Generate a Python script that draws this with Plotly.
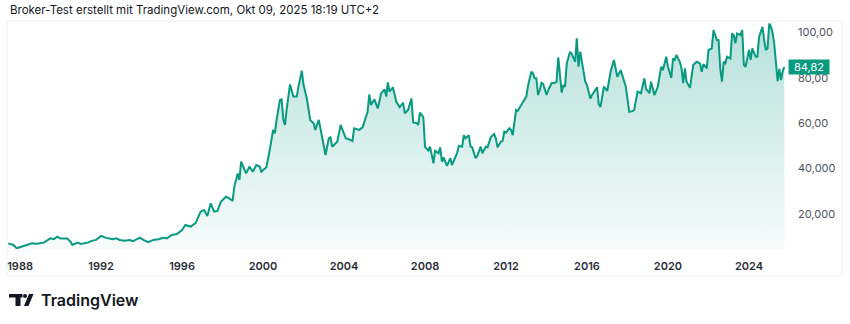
import plotly.graph_objects as go

# Monthly closing values (price in the quote currency)
dates = [
    "1987-06", "1987-09", "1987-11", "1988-01", "1988-04", "1988-08", "1988-11", "1989-03",
    "1989-07", "1989-09", "1989-11", "1990-01", "1990-05", "1990-07", "1990-08", "1990-11",
    "1991-01", "1991-05", "1991-08", "1991-10", "1992-01", "1992-04", "1992-08", "1992-10",
    "1992-12", "1993-03", "1993-06", "1993-08", "1993-12", "1994-02", "1994-05", "1994-08",
    "1994-11", "1995-02", "1995-04", "1995-07", "1995-10", "1996-01", "1996-03", "1996-06",
    "1996-09", "1996-12", "1997-02", "1997-04", "1997-06", "1997-08", "1997-10", "1997-12",
    "1998-03", "1998-05", "1998-07", "1998-08", "1998-10", "1998-11", "1998-12", "1999-03",
    "1999-05", "1999-07", "1999-09", "1999-11", "1999-12", "2000-03", "2000-05", "2000-07",
    "2000-08", "2000-09", "2000-11", "2000-12", "2001-01", "2001-02", "2001-03", "2001-05",
    "2001-07", "2001-09", "2001-10", "2001-12", "2002-01", "2002-03", "2002-05", "2002-07",
    "2002-08", "2002-10", "2002-11", "2003-01", "2003-02", "2003-04", "2003-05", "2003-06",
    "2003-09", "2003-11", "2004-02", "2004-04", "2004-06", "2004-07", "2004-10", "2004-12",
    "2005-03", "2005-04", "2005-05", "2005-07", "2005-09", "2005-11", "2006-01", "2006-02",
    "2006-03", "2006-04", "2006-06", "2006-08", "2006-10", "2006-12", "2007-01", "2007-03",
    "2007-05", "2007-06", "2007-08", "2007-09", "2007-10", "2007-12", "2008-01", "2008-03",
    "2008-04", "2008-06", "2008-07", "2008-09", "2008-10", "2008-11", "2008-12", "2009-02",
    "2009-04", "2009-05", "2009-08", "2009-09", "2009-11", "2009-12", "2010-01", "2010-03",
    "2010-04", "2010-05", "2010-07", "2010-08", "2010-10", "2010-11", "2011-01", "2011-02",
    "2011-04", "2011-06", "2011-07", "2011-08", "2011-10", "2011-11", "2011-12", "2012-01",
    "2012-03", "2012-04", "2012-05", "2012-07", "2012-08", "2012-10", "2012-12", "2013-01",
    "2013-02", "2013-04", "2013-05", "2013-06", "2013-07", "2013-08", "2013-09", "2013-10",
    "2013-11", "2014-01", "2014-02", "2014-04", "2014-06", "2014-07", "2014-08", "2014-10",
    "2014-11", "2014-12", "2015-01", "2015-03", "2015-04", "2015-06", "2015-07", "2015-08",
    "2015-09", "2015-12", "2016-01", "2016-03", "2016-04", "2016-07", "2016-08", "2016-09",
    "2016-11", "2017-01", "2017-03", "2017-05", "2017-07", "2017-09", "2017-12", "2018-01",
    "2018-02", "2018-04", "2018-05", "2018-07", "2018-09", "2018-11", "2018-12", "2019-02",
    "2019-03", "2019-05", "2019-07", "2019-09", "2019-10", "2019-12", "2020-01", "2020-03",
    "2020-04", "2020-05", "2020-06", "2020-08", "2020-09", "2020-10", "2020-11", "2020-12",
    "2021-02", "2021-04", "2021-06", "2021-08", "2021-09", "2021-10", "2021-12", "2022-01",
    "2022-03", "2022-04", "2022-06", "2022-07", "2022-08", "2022-09", "2022-10", "2022-11",
    "2022-12", "2023-02", "2023-03", "2023-04", "2023-05", "2023-06", "2023-08", "2023-09",
    "2023-10", "2023-11", "2024-01", "2024-02", "2024-03", "2024-05", "2024-06", "2024-07",
    "2024-09", "2024-10", "2024-11", "2024-12", "2025-01", "2025-02", "2025-03", "2025-04",
    "2025-05", "2025-06", "2025-07", "2025-08", "2025-09", "2025-10",
]
prices = [
    6.9, 6.2, 4.7, 5.2, 6.2, 6.9, 6.7, 7.2,
    9.1, 8.7, 9.8, 9.0, 9.0, 7.6, 6.2, 7.2,
    6.6, 7.2, 8.1, 8.4, 10.2, 9.3, 8.7, 9.1,
    8.4, 8.1, 8.4, 7.9, 9.4, 8.4, 7.4, 8.4,
    8.7, 9.4, 9.1, 10.6, 11.0, 12.8, 15.0, 14.3,
    15.8, 20.9, 21.6, 19.0, 24.6, 20.9, 21.2, 25.3,
    27.5, 26.8, 25.6, 31.9, 37.8, 34.9, 43.0, 37.8,
    40.8, 38.5, 41.5, 40.8, 38.5, 40.5, 48.1, 57.0,
    55.5, 61.4, 70.2, 70.5, 61.4, 59.2, 65.8, 77.1,
    71.7, 71.7, 76.1, 83.1, 76.8, 70.9, 61.4, 59.9,
    57.0, 61.4, 57.7, 48.9, 45.9, 53.3, 53.7, 49.6,
    51.8, 59.2, 53.3, 52.8, 52.1, 57.7, 57.0, 58.1,
    65.0, 72.7, 68.0, 70.5, 66.5, 73.2, 74.9, 71.7,
    78.0, 73.9, 75.8, 69.4, 67.0, 69.0, 64.3, 65.8,
    70.9, 60.3, 60.0, 59.2, 64.6, 62.7, 49.5, 47.8,
    49.6, 42.3, 47.8, 46.7, 49.3, 43.0, 44.9, 41.1,
    44.5, 41.5, 46.7, 49.9, 49.6, 54.7, 53.3, 54.7,
    49.6, 49.3, 44.5, 45.5, 49.6, 46.7, 49.6, 49.3,
    53.7, 55.2, 53.3, 49.3, 51.8, 52.2, 56.2, 55.8,
    57.7, 57.0, 54.7, 65.8, 65.5, 68.0, 70.9, 71.7,
    76.4, 82.7, 82.0, 79.8, 79.8, 72.4, 74.6, 77.8,
    77.3, 72.4, 74.6, 77.6, 77.8, 78.3, 89.1, 73.4,
    76.8, 76.1, 86.4, 91.5, 90.5, 87.1, 97.4, 84.9,
    91.5, 78.3, 76.8, 70.9, 72.4, 75.8, 68.3, 67.2,
    76.1, 74.2, 82.7, 87.9, 80.5, 83.4, 76.1, 70.9,
    65.0, 65.3, 65.8, 73.9, 73.2, 79.8, 75.1, 73.2,
    78.3, 72.4, 76.1, 84.9, 83.4, 89.3, 84.9, 80.0,
    88.6, 87.9, 90.1, 87.1, 84.2, 77.6, 84.2, 78.3,
    75.6, 85.7, 87.1, 86.4, 82.7, 86.0, 84.2, 92.3,
    93.0, 101.1, 96.7, 96.7, 84.2, 78.3, 87.1, 86.4,
    89.3, 88.6, 99.6, 98.9, 95.2, 99.6, 98.9, 101.1,
    85.7, 84.9, 92.3, 87.9, 93.0, 89.3, 89.3, 98.1,
    102.5, 96.7, 92.3, 93.0, 104.0, 102.5, 100.0, 95.0,
    86.0, 78.5, 84.0, 79.0, 83.0, 84.82,
]

# Axis labels
year_ticks = ["1988", "1992", "1996", "2000", "2004", "2008", "2012", "2016", "2020", "2024"]
price_ticks = [20, 40, 60, 80, 100]
price_tick_text = ["20,000", "40,000", "60,00", "80,00", "100,00"]
last_price_text = "84,82"

header_text = "Broker-Test erstellt mit TradingView.com, Okt 09, 2025 18:19 UTC+2"
brand_text = "TradingView"

GREEN = "#089981"
TEXT = "#131722"

W, H = 850, 324
ML, MR, MT, MB = 8, 65, 21, 75
PW, PH = W - ML - MR, H - MT - MB
Y_MIN, Y_MAX = 4.4, 105.1


def px(x):
    return (x - ML) / PW


def py(y):
    return (H - MB - y) / PH


fig = go.Figure()
fig.add_trace(go.Scatter(
    x=[d + "-01" for d in dates],
    y=prices,
    mode="lines",
    line=dict(color=GREEN, width=2),
    fill="tozeroy",
    fillgradient=dict(
        type="vertical",
        start=Y_MIN,
        stop=Y_MAX,
        colorscale=[[0, "rgba(8,153,129,0.03)"], [1, "rgba(8,153,129,0.30)"]],
    ),
    hoverinfo="skip",
    showlegend=False,
))

fig.update_layout(
    width=W, height=H,
    margin=dict(l=ML, r=MR, t=MT, b=MB, pad=0),
    paper_bgcolor="white",
    plot_bgcolor="white",
    font=dict(family="Inter, Roboto, sans-serif", color=TEXT),
    xaxis=dict(
        range=["1987-05-28", "2025-10-12"],
        tickvals=[y + "-01-01" for y in year_ticks],
        ticktext=year_ticks,
        showgrid=False, zeroline=False, showline=False, ticks="",
        tickfont=dict(size=11, color="#2a2e39", weight=600),
        ticklabelstandoff=9,
    ),
    yaxis=dict(
        range=[Y_MIN, Y_MAX],
        side="right",
        tickvals=price_ticks,
        ticktext=price_tick_text,
        showgrid=False, zeroline=False, showline=False, ticks="",
        tickfont=dict(size=11, color="#50535e"),
        ticklabelstandoff=12,
    ),
    hovermode=False,
)

shapes = [
    # chart frame
    dict(type="rect", xref="paper", yref="paper",
         x0=px(7), x1=px(842), y0=py(276), y1=py(21),
         line=dict(color="#eef0f3", width=1), fillcolor="rgba(0,0,0,0)", layer="below"),
    # logo: bar + stem
    dict(type="rect", xref="paper", yref="paper",
         x0=px(9), x1=px(22.5), y0=py(297.5), y1=py(294),
         line=dict(width=0), fillcolor=TEXT),
    dict(type="rect", xref="paper", yref="paper",
         x0=px(15.5), x1=px(20.5), y0=py(306), y1=py(294),
         line=dict(width=0), fillcolor=TEXT),
    # logo: dot
    dict(type="circle", xref="paper", yref="paper",
         x0=px(23), x1=px(27), y0=py(298), y1=py(294),
         line=dict(width=0), fillcolor=TEXT),
    # logo: slanted stroke
    dict(type="path", xref="paper", yref="paper",
         path=(f"M {px(29)} {py(294)} L {px(33.5)} {py(294)} "
               f"L {px(28.5)} {py(306)} L {px(24)} {py(306)} Z"),
         line=dict(width=0), fillcolor=TEXT),
]

annotations = [
    dict(text=header_text, xref="paper", yref="paper", x=px(8), y=py(10),
         xanchor="left", yanchor="middle", showarrow=False,
         font=dict(size=11.5, color=TEXT)),
    dict(text=brand_text, xref="paper", yref="paper", x=px(39), y=py(300),
         xanchor="left", yanchor="middle", showarrow=False,
         font=dict(size=16, color=TEXT, weight=600)),
    dict(text=last_price_text, xref="paper", yref="y", x=px(788), y=prices[-1],
         xanchor="left", yanchor="middle", showarrow=False,
         bgcolor=GREEN, width=38, height=12, borderpad=1,
         font=dict(size=11, color="white")),
]

fig.update_layout(shapes=shapes, annotations=annotations)

fig.write_html("out.html")
